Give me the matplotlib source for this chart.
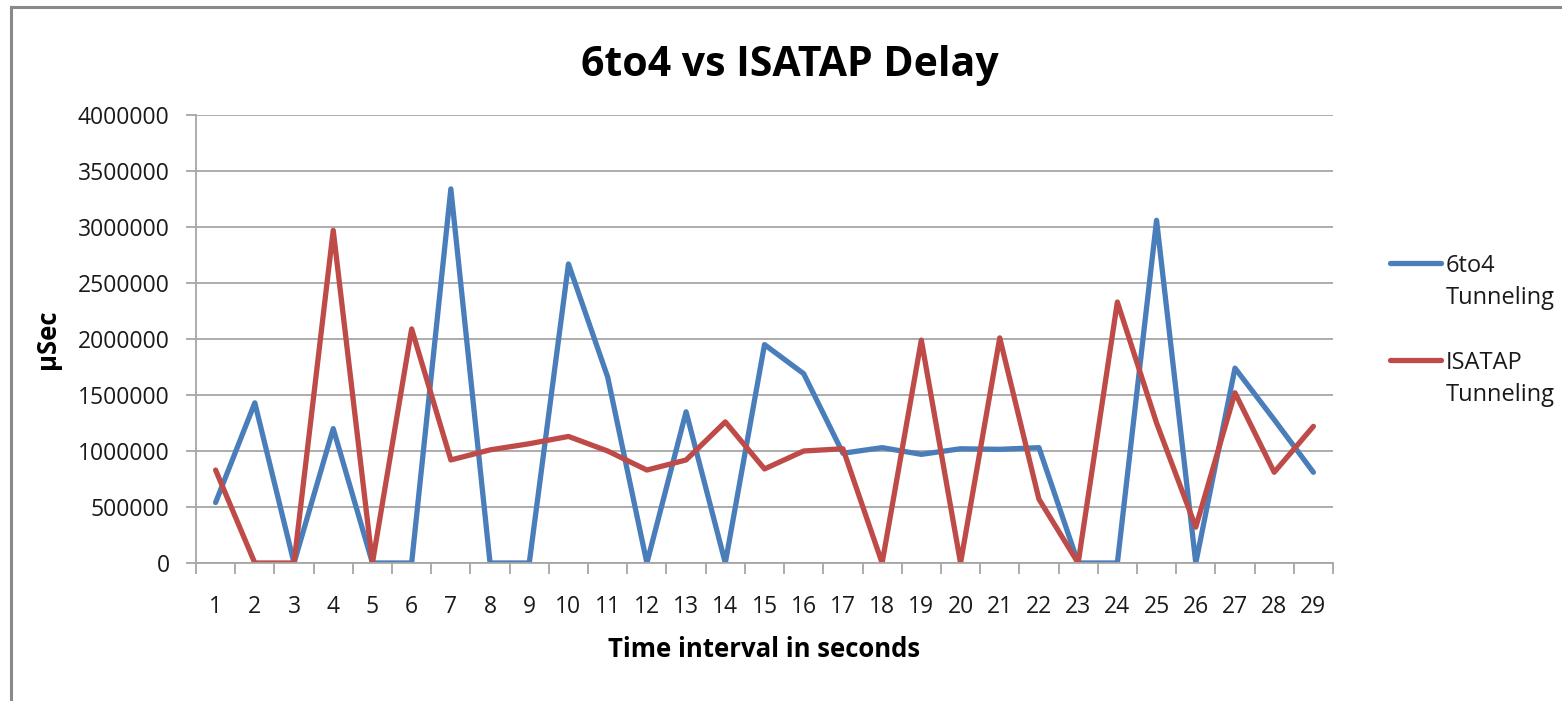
import numpy as np
import matplotlib
matplotlib.use("Agg")
import matplotlib.pyplot as plt
from matplotlib.lines import Line2D
from matplotlib.ticker import FixedLocator

plt.rcParams['font.family'] = ['Open Sans', 'DejaVu Sans']

# Data
seconds = list(range(1, 30))
tunnel_6to4 = [540000, 1430000, 0, 1200000, 0, 0, 3340000, 0, 0, 2670000,
               1660000, 0, 1350000, 0, 1950000, 1690000, 980000, 1030000, 970000, 1020000,
               1015000, 1030000, 0, 0, 3060000, 0, 1740000, 1280000, 810000]
tunnel_isatap = [830000, 0, 0, 2970000, 0, 2090000, 920000, 1010000, 1065000, 1130000,
                 1000000, 830000, 920000, 1260000, 840000, 1000000, 1020000, 0, 1990000, 0,
                 2010000, 570000, 0, 2330000, 1250000, 320000, 1520000, 810000, 1220000]
series_names = ['6to4\nTunneling', 'ISATAP\nTunneling']
series_colors = ['#4a7ebb', '#be4b48']
y_ticks = list(range(0, 4000001, 500000))

W, H = 1562, 701
fig = plt.figure(figsize=(W / 100, H / 100), dpi=100)
ax = fig.add_axes([196/W, 1 - 563/H, (1333 - 196)/W, (563 - 115)/H])

# outer chart frame: only left and top edges are visible in the picture
fig.add_artist(Line2D([11/W, 11/W], [0, 1 - 7/H], transform=fig.transFigure,
                      color='#8a8a8a', linewidth=2.2))
fig.add_artist(Line2D([11/W, 1], [1 - 7/H, 1 - 7/H], transform=fig.transFigure,
                      color='#8a8a8a', linewidth=2.2))

for vals, name, col in zip([tunnel_6to4, tunnel_isatap], series_names, series_colors):
    ax.plot(seconds, vals, color=col, linewidth=3.8, label=name,
            solid_joinstyle='round', solid_capstyle='round')

ax.set_xlim(0.5, 29.5)
ax.set_ylim(0, 4000000)
ax.set_yticks(y_ticks)
ax.set_yticklabels([str(v) for v in y_ticks])
ax.set_xticks(seconds)
ax.set_xticklabels([str(s) for s in seconds])
ax.xaxis.set_minor_locator(FixedLocator(np.arange(0.5, 30, 1)))

ax.grid(axis='y', color='#a6a6a6', linewidth=1.3)
ax.set_axisbelow(True)
for side in ['top', 'right']:
    ax.spines[side].set_visible(False)
for side in ['left', 'bottom']:
    ax.spines[side].set_color('#a6a6a6')
    ax.spines[side].set_linewidth(1.3)

ax.tick_params(axis='y', length=7, width=1.3, color='#a6a6a6', pad=12, labelsize=16.5, labelcolor='#1a1a1a')
ax.tick_params(axis='x', which='major', length=0, pad=23, labelsize=16.5, labelcolor='#1a1a1a')
ax.tick_params(axis='x', which='minor', length=8, width=1.3, color='#a6a6a6')

ax.set_xlabel('Time interval in seconds', fontsize=18.5, fontweight='bold', labelpad=12)
ax.set_ylabel('µSec', fontsize=18.5, fontweight='bold', labelpad=12)
fig.text(790/W, 1 - 66/H, '6to4 vs ISATAP Delay', fontsize=29.5, fontweight='bold',
         ha='center', va='center')

# legend drawn by hand so the line sits beside the first line of the label
legend_y = [263, 360]
for ly, name, col in zip(legend_y, series_names, series_colors):
    fig.add_artist(Line2D([1390/W, 1441/W], [1 - ly/H, 1 - ly/H], transform=fig.transFigure,
                          color=col, linewidth=3.8, solid_capstyle='round'))
    fig.text(1446/W, 1 - (ly - 9)/H, name, fontsize=17, color='#1a1a1a',
             ha='left', va='top', linespacing=1.45)

fig.savefig('out.png', dpi=100)
